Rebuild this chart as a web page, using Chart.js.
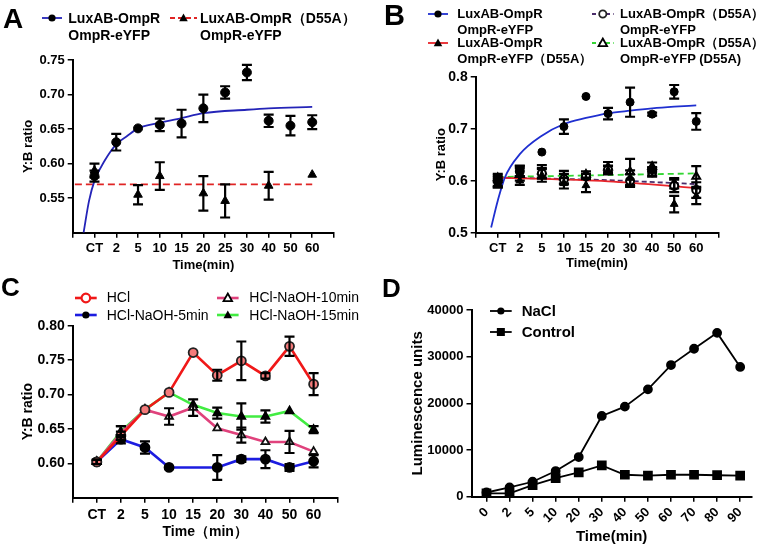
<!DOCTYPE html>
<html>
<head>
<meta charset="utf-8">
<script src="https://cdn.jsdelivr.net/npm/chart.js@4.4.1/dist/chart.umd.min.js"></script>
<style>
body { margin: 0; background: #fff; width: 760px; height: 549px; position: relative; overflow: hidden; font-family: "Liberation Sans", Arial, sans-serif; }
canvas { position: absolute; }
.tag { position: absolute; font-weight: bold; line-height: 1; color: #000; }
.leg { position: absolute; white-space: nowrap; color: #000; }
svg { position: absolute; overflow: visible; }
</style>
</head>
<body>
<canvas id="cA" width="380" height="275" style="left:0;top:0"></canvas>
<canvas id="cB" width="380" height="275" style="left:380px;top:0"></canvas>
<canvas id="cC" width="380" height="274" style="left:0;top:275px"></canvas>
<canvas id="cD" width="380" height="274" style="left:380px;top:275px"></canvas>
<div class="tag" style="left:3px;top:5px;font-size:28px">A</div>
<div class="tag" style="left:384px;top:1px;font-size:29px">B</div>
<div class="tag" style="left:1px;top:274px;font-size:26px">C</div>
<div class="tag" style="left:382px;top:275px;font-size:26px">D</div>
<script>
// ---- panel A ----
const timesA = ['CT', '2', '5', '10', '15', '20', '25', '30', '40', '50', '60'];
const wtA = [0.582, 0.631, 0.651, 0.656, 0.658, 0.680, 0.703, 0.732, 0.662, 0.655, 0.660];
const wtAErr = [0.008, 0.012, 0, 0.009, 0.020, 0.020, 0.009, 0.011, 0.009, 0.014, 0.010];
const mutA = [0.590, null, 0.555, 0.582, null, 0.557, 0.546, null, 0.568, null, 0.584];
const mutAErr = [0.010, 0, 0.014, 0.020, 0, 0.025, 0.024, 0, 0.020, 0, 0];
const fitAx = [-0.5, -0.25, 0, 0.5, 1, 1.5, 2, 3, 4, 5, 7, 8, 10];
const fitAy = [0.500, 0.546, 0.575, 0.606, 0.628, 0.640, 0.651, 0.659, 0.666, 0.673, 0.678, 0.680, 0.682];
const flatAx = [-0.9, 10];
const flatAy = [0.570, 0.570];
const ticksA = [0.55, 0.60, 0.65, 0.70, 0.75];

// ---- panel B ----
const timesB = ['CT', '2', '5', '10', '15', '20', '30', '40', '50', '60'];
const wtB = [0.597, 0.619, 0.655, 0.704, 0.762, 0.729, 0.751, 0.728, 0.771, 0.714];
const wtBErr = [0.010, 0.010, 0, 0.014, 0, 0.011, 0.028, 0.003, 0.013, 0.016];
const yfpMutB = [0.595, 0.600, 0.610, 0.595, 0.591, 0.620, 0.605, 0.618, 0.555, 0.570];
const yfpMutBErr = [0.008, 0.008, 0.012, 0.010, 0.013, 0.008, 0.015, 0.008, 0.016, 0.015];
const luxMutB = [0.600, 0.618, 0.614, 0.603, 0.608, 0.621, 0.600, 0.616, 0.590, 0.582];
const luxMutBErr = [0.010, 0.010, 0.010, 0.010, 0.005, 0.008, 0.012, 0.008, 0.012, 0.015];
const bothMutB = [0.605, 0.612, 0.618, 0.607, 0.612, 0.626, 0.617, 0.627, 0.595, 0.608];
const bothMutBErr = [0.008, 0.012, 0.012, 0.012, 0.006, 0.010, 0.025, 0.008, 0.010, 0.020];
const fitBx = [-0.3, 0, 0.32, 1, 2, 3, 4, 5, 6, 7, 8, 9];
const fitBy = [0.510, 0.5615, 0.606, 0.651, 0.6865, 0.709, 0.7206, 0.7295, 0.7346, 0.739, 0.7423, 0.7449];
const redFitBx = [0, 5, 9];
const redFitBy = [0.606, 0.5987, 0.586];
const purpleFitBx = [0, 5, 9];
const purpleFitBy = [0.606, 0.601, 0.5935];
const greenFitBx = [0, 9];
const greenFitBy = [0.607, 0.614];
const ticksB = [0.5, 0.6, 0.7, 0.8];

// ---- panel C ----
const timesC = ['CT', '2', '5', '10', '15', '20', '30', '40', '50', '60'];
const hcl = [0.602, 0.640, 0.678, 0.703, 0.761, 0.728, 0.749, 0.727, 0.770, 0.715];
const hclErr = [0.003, 0.006, 0, 0, 0, 0.008, 0.028, 0.004, 0.014, 0.016];
const naoh5 = [0.602, 0.635, 0.623, 0.594, null, 0.594, 0.606, 0.606, 0.594, 0.603];
const naoh5Err = [0.003, 0.006, 0.009, 0, 0, 0.018, 0.004, 0.013, 0.005, 0.009];
const naoh10 = [0.602, 0.644, 0.678, 0.668, 0.681, 0.651, 0.641, 0.631, 0.631, 0.617];
const naoh10Err = [0.003, 0.010, 0, 0.012, 0.012, 0, 0.011, 0, 0.016, 0];
const naoh15 = [0.602, 0.646, 0.678, 0.703, 0.685, 0.673, 0.668, 0.668, 0.676, 0.649];
const naoh15Err = [0.003, 0.008, 0, 0, 0, 0.008, 0.019, 0.009, 0, 0.005];
const ticksC = [0.60, 0.65, 0.70, 0.75, 0.80];

// ---- panel D ----
const timesD = ['0', '2', '5', '10', '20', '30', '40', '50', '60', '70', '80', '90'];
const nacl = [900, 2000, 3200, 5500, 8500, 17300, 19300, 23000, 28200, 31700, 35100, 27800];
const control = [700, 700, 2500, 4000, 5200, 6700, 4700, 4500, 4700, 4700, 4600, 4500];
const ticksD = [0, 10000, 20000, 30000, 40000];

const pts = arr => arr.map((v, i) => ({ x: i, y: v }));
const xy = (xs, ys) => xs.map((x, i) => ({ x: x, y: ys[i] }));
const range = (a, b) => { const r = []; for (let i = a; i <= b; i++) r.push(i); return r; };
const bold = size => ({ family: 'Liberation Sans', size: size, weight: 'bold' });

// error bars drawn through the chart's own scales
const errorBars = {
    id: 'errorBars',
    afterDatasetsDraw(chart) {
        const { ctx, scales: { x, y } } = chart;
        ctx.save();
        ctx.strokeStyle = '#000';
        ctx.lineWidth = 2.2;
        chart.data.datasets.forEach(ds => {
            if (!ds.errors) return;
            ds.data.forEach((p, j) => {
                const e = ds.errors[j];
                if (p.y == null || !e) return;
                const px = x.getPixelForValue(p.x);
                const top = y.getPixelForValue(p.y + e);
                const bot = y.getPixelForValue(p.y - e);
                ctx.beginPath();
                ctx.moveTo(px, top); ctx.lineTo(px, bot);
                ctx.moveTo(px - 5, top); ctx.lineTo(px + 5, top);
                ctx.moveTo(px - 5, bot); ctx.lineTo(px + 5, bot);
                ctx.stroke();
            });
        });
        ctx.restore();
    }
};

function makeChart(id, datasets, o) {
    return new Chart(document.getElementById(id), {
        type: 'line',
        data: { datasets: datasets },
        plugins: [errorBars],
        options: {
            responsive: false,
            animation: false,
            layout: { padding: { left: 0, top: o.top, right: o.right, bottom: 0 } },
            plugins: { legend: { display: false }, tooltip: { enabled: false } },
            scales: {
                x: {
                    type: 'linear', min: o.xMin, max: o.xMax,
                    afterBuildTicks: s => { s.ticks = o.xTicks.map(v => ({ value: v })); },
                    afterFit: s => { s.height = o.xH; },
                    ticks: {
                        font: o.xFont, color: '#000', padding: o.xPad, autoSkip: false,
                        maxRotation: o.rot, minRotation: o.rot,
                        callback: v => o.labels[v] ?? ''
                    },
                    grid: { drawOnChartArea: false, tickLength: 5, color: '#000', lineWidth: 1.5 },
                    border: { color: '#000', width: 2 },
                    title: { display: true, text: o.xTitle, font: o.xTitleFont, color: '#000', padding: { top: 0, bottom: o.xTitlePad } }
                },
                y: {
                    type: 'linear', min: o.yMin, max: o.yMax,
                    afterBuildTicks: s => { s.ticks = o.yTicks.map(v => ({ value: v })); },
                    afterFit: s => { s.width = o.yW; },
                    ticks: { font: o.yFont, color: '#000', padding: 3, callback: o.yFmt },
                    grid: { drawOnChartArea: false, tickLength: 5, color: '#000', lineWidth: 1.5 },
                    border: { color: '#000', width: 2 },
                    title: { display: true, text: o.yTitle, font: o.yTitleFont, color: '#000', padding: { top: o.yTitlePad, bottom: 0 } }
                }
            }
        }
    });
}

function marks(data, errors, style, extra) {
    return Object.assign({
        data: data, errors: errors, showLine: false,
        pointStyle: style, pointRadius: 4.5, pointBackgroundColor: '#000', pointBorderColor: '#000', pointBorderWidth: 1
    }, extra || {});
}
function fit(data, color, dash) {
    return {
        data: data, borderColor: color, borderWidth: 1.8, borderDash: dash || [],
        pointRadius: 0, cubicInterpolationMode: 'monotone', fill: false
    };
}

// A
makeChart('cA', [
    marks(pts(wtA), wtAErr, 'circle'),
    marks(pts(mutA), mutAErr, 'triangle', { pointRadius: 5 }),
    fit(xy(fitAx, fitAy), '#2424b8'),
    fit(xy(flatAx, flatAy), '#e02424', [7, 4])
], {
    top: 60, right: 46, yW: 72.7, xH: 42.3, xMin: -1, xMax: 11, xTicks: range(-1, 11), labels: timesA,
    xFont: bold(13), xPad: 3, rot: 0, xTitle: 'Time(min)', xTitleFont: bold(13), xTitlePad: 2,
    yMin: 0.50, yMax: 0.75, yTicks: ticksA, yFont: bold(13), yFmt: v => v.toFixed(2),
    yTitle: 'Y:B ratio', yTitleFont: bold(13), yTitlePad: 20.5
});

// B
makeChart('cB', [
    marks(pts(wtB), wtBErr, 'circle', { pointRadius: 4 }),
    marks(pts(yfpMutB), yfpMutBErr, 'triangle', { pointRadius: 4.5 }),
    marks(pts(luxMutB), luxMutBErr, 'circle', { pointRadius: 4, pointBackgroundColor: '#fff', pointBorderWidth: 2 }),
    marks(pts(bothMutB), bothMutBErr, 'triangle', { pointRadius: 4.5, pointBackgroundColor: '#fff', pointBorderWidth: 2 }),
    fit(xy(fitBx, fitBy), '#1f2fd0'),
    fit(xy(redFitBx, redFitBy), '#e8242a'),
    fit(xy(purpleFitBx, purpleFitBy), '#4a2c6a', [5, 3]),
    fit(xy(greenFitBx, greenFitBy), '#33d633', [6, 4])
], {
    top: 76.7, right: 41.7, yW: 95.7, xH: 42.3, xMin: -1, xMax: 10, xTicks: range(-1, 10), labels: timesB,
    xFont: bold(13), xPad: 3, rot: 0, xTitle: 'Time(min)', xTitleFont: bold(13), xTitlePad: 3.9,
    yMin: 0.5, yMax: 0.8, yTicks: ticksB, yFont: bold(14), yFmt: v => v.toFixed(1),
    yTitle: 'Y:B ratio', yTitleFont: bold(13), yTitlePad: 53.9
});

// C
function cLine(data, errors, color, style, fillColor, border) {
    return {
        data: data, errors: errors, borderColor: color, borderWidth: 2.6, spanGaps: true, tension: 0,
        pointStyle: style, pointRadius: 4.5, pointBackgroundColor: fillColor,
        pointBorderColor: border, pointBorderWidth: 1.8
    };
}
makeChart('cC', [
    cLine(pts(hcl), hclErr, '#f01818', 'circle', '#f47a7a', '#222'),
    cLine(pts(naoh10), naoh10Err, '#e0427c', 'triangle', '#fff', '#111'),
    cLine(pts(naoh15), naoh15Err, '#42ec42', 'triangle', '#000', '#000'),
    cLine(pts(naoh5), naoh5Err, '#1c1ce0', 'circle', '#000', '#000')
], {
    top: 50.7, right: 42.3, yW: 72.7, xH: 51.3, xMin: -1, xMax: 10, xTicks: range(-1, 10), labels: timesC,
    xFont: bold(14), xPad: 4, rot: 0, xTitle: 'Time（min）', xTitleFont: bold(14), xTitlePad: 8.9,
    yMin: 0.55, yMax: 0.80, yTicks: ticksC, yFont: bold(14), yFmt: v => v.toFixed(2),
    yTitle: 'Y:B ratio', yTitleFont: bold(14), yTitlePad: 19.9
});

// D
makeChart('cD', [
    { data: pts(nacl), borderColor: '#000', borderWidth: 1.8, pointStyle: 'circle', pointRadius: 4,
      pointBackgroundColor: '#000', pointBorderColor: '#000', tension: 0 },
    { data: pts(control), borderColor: '#000', borderWidth: 1.8, pointStyle: 'rect', pointRadius: 5.6,
      pointBackgroundColor: '#000', pointBorderColor: '#000', tension: 0 }
], {
    top: 35, right: 8.3, yW: 91.5, xH: 52.3, xMin: -0.65, xMax: 11.5, xTicks: range(0, 11), labels: timesD,
    xFont: bold(13), xPad: 3, rot: 45, xTitle: 'Time(min)', xTitleFont: bold(15), xTitlePad: 3.3,
    yMin: 0, yMax: 40000, yTicks: ticksD, yFont: bold(13), yFmt: v => String(v),
    yTitle: 'Luminescence units', yTitleFont: bold(15), yTitlePad: 29.3
});

// legends (HTML)
function mk(type, cx, cy, color) {
    const tri = (r) => `${cx},${cy - r} ${cx + r * 0.95},${cy + r * 0.7} ${cx - r * 0.95},${cy + r * 0.7}`;
    switch (type) {
        case 'dot': return `<circle cx="${cx}" cy="${cy}" r="3.6" fill="#000"/>`;
        case 'tri': return `<polygon points="${tri(4.5)}" fill="#000"/>`;
        case 'ocircle': return `<circle cx="${cx}" cy="${cy}" r="3.6" fill="#fff" stroke="#222" stroke-width="1.8"/>`;
        case 'otri': return `<polygon points="${tri(4.5)}" fill="#fff" stroke="#000" stroke-width="1.8"/>`;
        case 'ring': return `<circle cx="${cx}" cy="${cy}" r="4.3" fill="#fff" stroke="${color}" stroke-width="2.2"/>`;
        case 'square': return `<rect x="${cx - 4}" y="${cy - 4}" width="8" height="8" fill="#000"/>`;
    }
    return '';
}
function legendItem(x, y, len, color, width, dash, marker, lines, size, weight, textX, lineH) {
    const svg = `<svg style="left:${x}px;top:${y - 8}px" width="${len}" height="16">` +
        `<line x1="0" y1="8" x2="${len}" y2="8" stroke="${color}" stroke-width="${width}"` +
        (dash ? ` stroke-dasharray="${dash}"` : '') + `/>` + mk(marker, len / 2, 8, color) + `</svg>`;
    const div = document.createElement('div');
    div.className = 'leg';
    div.style.left = textX + 'px';
    div.style.top = (y - lineH / 2) + 'px';
    div.style.fontSize = size + 'px';
    div.style.fontWeight = weight;
    div.style.lineHeight = lineH + 'px';
    div.innerHTML = lines.join('<br>');
    document.body.insertAdjacentHTML('beforeend', svg);
    document.body.appendChild(div);
}
legendItem(41.7, 18.3, 20, '#2424b8', 1.8, null, 'dot', ['LuxAB-OmpR', 'OmpR-eYFP'], 14, 'bold', 68.3, 16.7);
legendItem(170, 18.3, 27, '#e02424', 1.8, '5 3', 'tri', ['LuxAB-OmpR（D55A）', 'OmpR-eYFP'], 14, 'bold', 200, 16.7);

legendItem(428.3, 14, 20, '#1f2fd0', 1.8, null, 'dot', ['LuxAB-OmpR', 'OmpR-eYFP'], 13, 'bold', 457.3, 16);
legendItem(428.3, 43.3, 20, '#e8242a', 1.8, null, 'tri', ['LuxAB-OmpR', 'OmpR-eYFP（D55A）'], 13, 'bold', 457.3, 16);
legendItem(591.7, 14, 21.6, '#4a2c6a', 1.8, '4 3', 'ocircle', ['LuxAB-OmpR（D55A）', 'OmpR-eYFP'], 13, 'bold', 620, 16);
legendItem(591.7, 43.3, 21.6, '#33d633', 1.8, '4 3', 'otri', ['LuxAB-OmpR（D55A）', 'OmpR-eYFP (D55A)'], 13, 'bold', 620, 16);

legendItem(75, 297.7, 21.7, '#f01818', 2.6, null, 'ring', ['HCl'], 14, 'normal', 106.7, 17);
legendItem(75, 315, 21.7, '#1c1ce0', 2.6, null, 'dot', ['HCl-NaOH-5min'], 14, 'normal', 106.7, 17);
legendItem(216.7, 297.7, 21.6, '#e0427c', 2.6, null, 'otri', ['HCl-NaOH-10min'], 14, 'normal', 249.3, 17);
legendItem(216.7, 315, 21.6, '#42ec42', 2.6, null, 'tri', ['HCl-NaOH-15min'], 14, 'normal', 249.3, 17);

legendItem(490, 311, 21.7, '#000', 1.8, null, 'dot', ['NaCl'], 15, 'bold', 521.7, 18);
legendItem(490, 332.3, 21.7, '#000', 1.8, null, 'square', ['Control'], 15, 'bold', 521.7, 18);
</script>
</body>
</html>
